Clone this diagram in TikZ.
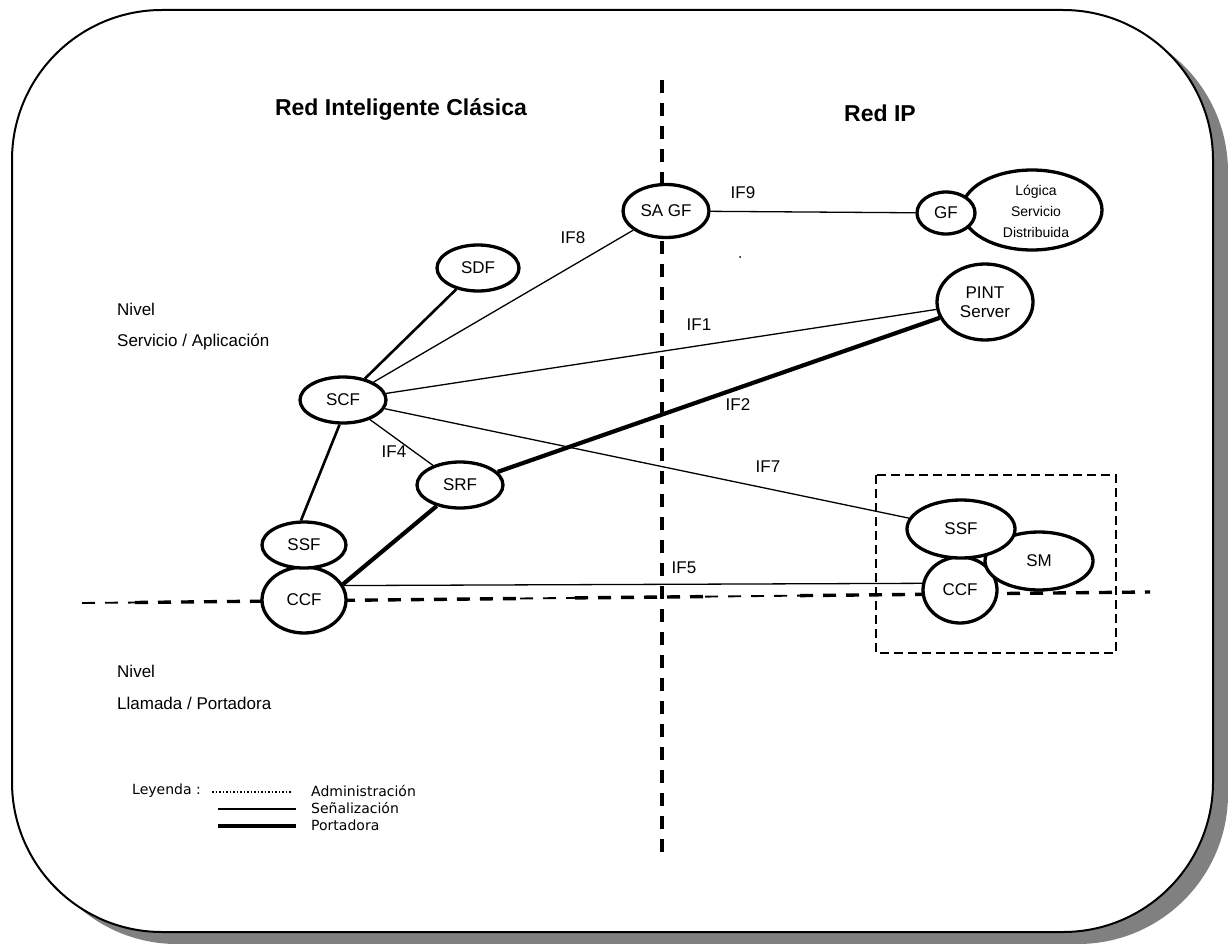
\documentclass[tikz,border=0pt]{standalone}
\usepackage{fontspec}
\setmainfont{Liberation Sans}
\newfontfamily\legfont{DejaVu Sans}
\usetikzlibrary{shapes.geometric}
\pgfdeclarelayer{frame}
\pgfdeclarelayer{links}
\pgfsetlayers{frame,links,main}
\definecolor{shadowgray}{HTML}{808080}

\begin{document}
\begin{tikzpicture}[x=1pt,y=-1pt,
  fn/.style={ellipse, draw, line width=3.3pt, fill=white, inner sep=0pt,
             font=\fontsize{17}{19}\selectfont, align=center},
  lbl/.style={font=\fontsize{17}{19}\selectfont, inner sep=0pt},
  thinlink/.style={line width=1.3pt},
  siglink/.style={line width=2.6pt},
  bearlink/.style={line width=4.2pt},
  bigdash/.style={line width=3.4pt, dash pattern=on 13pt off 10pt},
  smalldash/.style={line width=1.9pt, dash pattern=on 13pt off 10pt},
  legtext/.style={font=\legfont\fontsize{14}{16}\selectfont, anchor=west, inner sep=0pt}
]
\useasboundingbox (0,0) rectangle (1228,944);

% rounded frame with its drop shadow
\begin{pgfonlayer}{frame}
  \fill[shadowgray, rounded corners=150pt] (27,22) rectangle (1228,944);
  \draw[line width=2pt, fill=white, rounded corners=150pt] (12,10) rectangle (1213,932);
\end{pgfonlayer}

% headings
\node[font=\bfseries\fontsize{23}{25}\selectfont] (hClassic) at (401,110) {Red Inteligente Clásica};
\node[font=\bfseries\fontsize{23}{25}\selectfont] (hIP) at (880,113) {Red IP};

\node[lbl, anchor=west] (lvl1a) at (117,309) {Nivel};
\node[lbl, anchor=west] (lvl1b) at (117,342) {Servicio / Aplicación};
\node[lbl, anchor=west] (lvl2a) at (117,671) {Nivel};
\node[lbl, anchor=west] (lvl2b) at (117,703) {Llamada / Portadora};

% functional entities
\node[fn, minimum width=86pt, minimum height=53pt] (SAGF) at (666,211) {SA GF};
\node[fn, minimum width=140pt, minimum height=80pt] (LSD) at (1032,210) {};
\node[font=\fontsize{14}{21}\selectfont, align=center, inner sep=0pt] (LSDtext) at (1036,211) {Lógica\\Servicio\\Distribuida};
\node[fn, minimum width=58pt, minimum height=42pt] (GF) at (946,213) {GF};
\node[fn, minimum width=96pt, minimum height=76pt] (PINT) at (985,302) {PINT\\Server};
\node[fn, minimum width=82pt, minimum height=46pt] (SDF) at (478,268) {SDF};
\node[fn, minimum width=86pt, minimum height=46pt] (SCF) at (343,400) {SCF};
\node[fn, minimum width=86pt, minimum height=46pt] (SRF) at (460,485) {SRF};
\node[fn, minimum width=84pt, minimum height=66pt] (CCF) at (304,600) {CCF};
\node[fn, minimum width=84pt, minimum height=46pt] (SSF) at (304,545) {SSF};
\node[fn, minimum width=74pt, minimum height=66pt] (CCF2) at (960,590) {CCF};
\node[fn, minimum width=108pt, minimum height=58pt] (SM) at (1039,561) {SM};
\node[fn, minimum width=108pt, minimum height=58pt] (SSF2) at (961,529) {SSF};

% boundary lines
\coordinate (vTop) at (662,80);
\coordinate (vBot) at (662,852);
\coordinate (h0) at (82,603);
\coordinate (h1) at (135,602.5);
\coordinate (h2) at (520,598.5);
\coordinate (h3) at (575,597.9);
\coordinate (h4) at (705,596.6);
\coordinate (h5) at (800,595.6);
\coordinate (h6) at (1150,592);

\begin{pgfonlayer}{links}
  \draw[bigdash] (vTop) -- (vBot);
  \draw[smalldash] (h0) -- (h1);
  \draw[bigdash] (h1) -- (h2);
  \draw[smalldash] (h2) -- (h3);
  \draw[bigdash] (h3) -- (h4);
  \draw[smalldash] (h4) -- (h5);
  \draw[bigdash] (h5) -- (h6);

  % interfaces
  \draw[thinlink] (SAGF) -- (GF);
  \draw[thinlink] (SCF) -- (SAGF);
  \draw[thinlink] (SCF) -- (PINT);
  \draw[thinlink] (SCF) -- (SSF2);
  \draw[thinlink] (SCF) -- (SRF);
  \draw[thinlink] (CCF.20) -- (CCF2.170);
  \draw[siglink] (SCF) -- (SDF);
  \draw[siglink] (SCF.262) -- (SSF.97);
  \draw[bearlink] (SRF) -- (PINT);
  \draw[bearlink] (SRF.222) -- (CCF.22);

  % grouping box around the IP-side switch
  \draw[line width=1.9pt, dash pattern=on 9pt off 5pt] (876,475) rectangle (1116,653);
\end{pgfonlayer}

\fill (740,257) circle (1pt);

% interface labels
\node[lbl] (if9) at (743,193) {IF9};
\node[lbl] (if8) at (573,238) {IF8};
\node[lbl] (if1) at (699,325) {IF1};
\node[lbl] (if2) at (738,405) {IF2};
\node[lbl] (if4) at (394,452) {IF4};
\node[lbl] (if7) at (768,467) {IF7};
\node[lbl] (if5) at (684,568) {IF5};

% legend
\coordinate (la0) at (212,792);
\coordinate (la1) at (292,792);
\coordinate (lb0) at (218,809);
\coordinate (lb1) at (296,809);
\coordinate (lc0) at (218,826);
\coordinate (lc1) at (296,826);
\node[legtext] (leg) at (132,791) {Leyenda :};
\draw[line width=1.2pt, dash pattern=on 1.5pt off 2pt] (la0) -- (la1);
\draw[line width=2.8pt] (lb0) -- (lb1);
\draw[line width=4.4pt] (lc0) -- (lc1);
\node[legtext] (legA) at (311,791) {Administración};
\node[legtext] (legS) at (311,808) {Señalización};
\node[legtext] (legP) at (311,825) {Portadora};
\end{tikzpicture}
\end{document}
